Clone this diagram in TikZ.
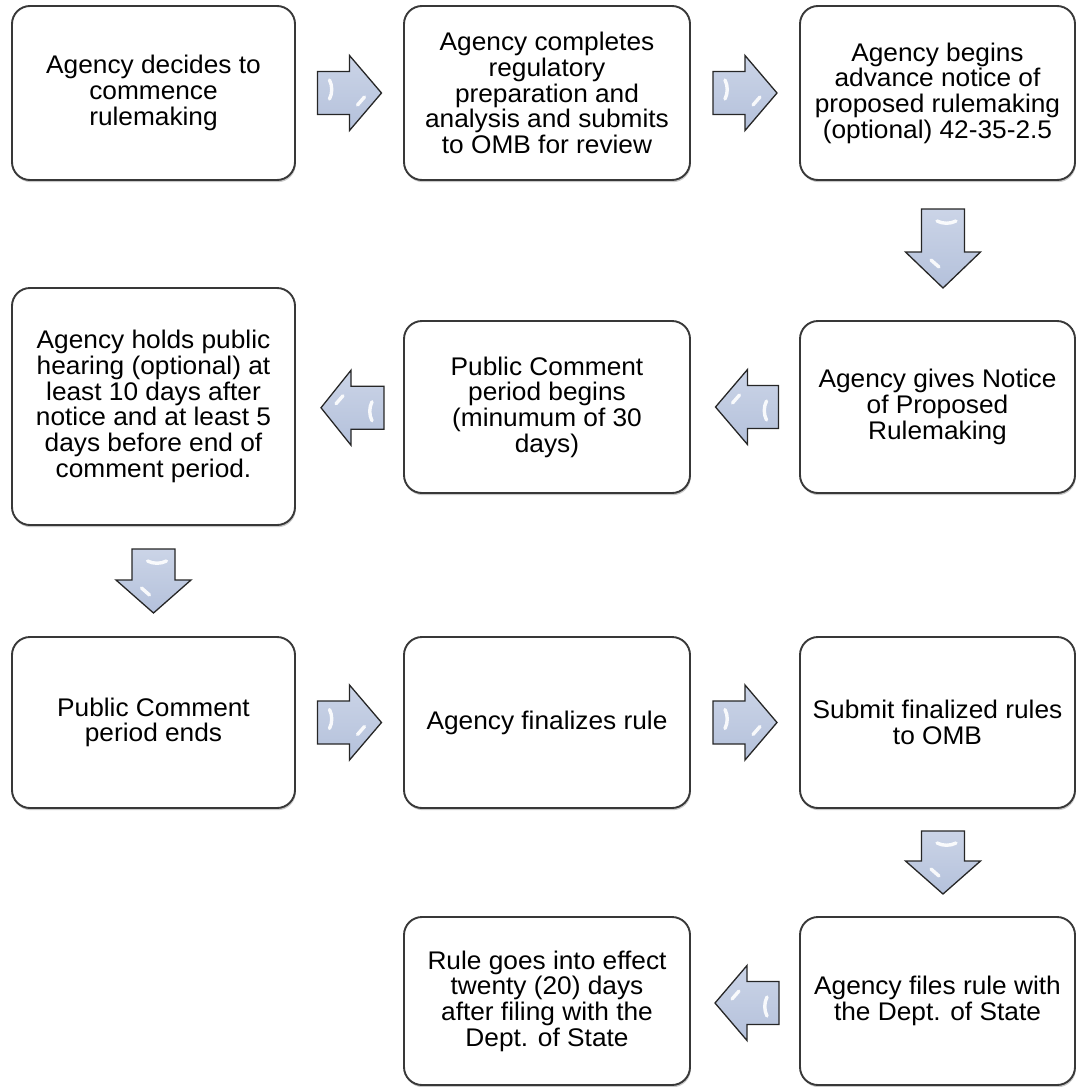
\documentclass[tikz,border=0pt]{standalone}
\usepackage{fontspec}
\setmainfont{Liberation Sans}[FakeStretch=1.03]
\usetikzlibrary{shadows,calc}
\definecolor{boxline}{HTML}{383838}
\definecolor{arrowtop}{HTML}{CBD4E7}
\definecolor{arrowbot}{HTML}{B4C1DB}
\definecolor{arrowline}{HTML}{262626}
\tikzset{
  flowbox/.style={draw=boxline, line width=1.9pt, rounded corners=18pt, fill=white,
    align=center, inner sep=0pt, font=\fontsize{25.5}{25.7}\selectfont,
    drop shadow={shadow xshift=0.8pt, shadow yshift=-2.2pt, opacity=0.3, fill=black!70}},
  arrowbody/.style={draw=arrowline, line width=1.3pt, line join=miter,
    top color=arrowtop, bottom color=arrowbot},
  shine/.style={draw=white, line width=3.4pt, line cap=round, opacity=0.9},
  pics/barrow/.style args={#1/#2}{code={
    \pgfmathsetmacro\aL{-(#1+#2)/2}
    \pgfmathsetmacro\aS{\aL+#1}
    \pgfmathsetmacro\aT{\aS+#2}
    \path[arrowbody] (\aL,-21.5) -- (\aS,-21.5) -- (\aS,-37.5) -- (\aT,0)
      -- (\aS,37.5) -- (\aS,21.5) -- (\aL,21.5) -- cycle;
    \draw[shine] (\aL+12,-13) .. controls (\aL+15,-7) and (\aL+15,0) .. (\aL+12,6);
    \draw[shine] (\aS+15,4) -- (\aS+8,12);
  }}
}
\begin{document}
\begin{tikzpicture}[x=1pt,y=-1pt]
\useasboundingbox (0,0) rectangle (1077,1087);
% row 1
\node[flowbox, minimum width=283pt, minimum height=174pt] (b1) at (153.5,93)
  {Agency decides to\\commence\\rulemaking};
\node[flowbox, minimum width=286pt, minimum height=174pt] (b2) at (547,93)
  {Agency completes\\regulatory\\preparation and\\analysis and submits\\to OMB for review};
\node[flowbox, minimum width=275pt, minimum height=174pt] (b3) at (937.5,93)
  {Agency begins\\advance notice of\\proposed rulemaking\\(optional) 42-35-2.5};
% row 2
\node[flowbox, minimum width=275pt, minimum height=172pt] (b4) at (937.5,407)
  {Agency gives Notice\\of Proposed\\Rulemaking};
\node[flowbox, minimum width=286pt, minimum height=172pt] (b5) at (547,407)
  {Public Comment\\period begins\\(minumum of 30\\days)};
\node[flowbox, minimum width=283pt, minimum height=237pt] (b6) at (153.5,406.5)
  {Agency holds public\\hearing (optional) at\\least 10 days after\\notice and at least 5\\days before end of\\comment period.};
% row 3
\node[flowbox, minimum width=283pt, minimum height=171pt] (b7) at (153.5,722.5)
  {Public Comment\\period ends};
\node[flowbox, minimum width=286pt, minimum height=171pt] (b8) at (547,722.5)
  {Agency finalizes rule};
\node[flowbox, minimum width=275pt, minimum height=171pt] (b9) at (937.5,722.5)
  {Submit finalized rules\\to OMB};
% row 4
\node[flowbox, minimum width=275pt, minimum height=168pt] (b10) at (937.5,1001)
  {Agency files rule with\\the Dept. of State};
\node[flowbox, minimum width=286pt, minimum height=168pt] (b11) at (547,1001)
  {Rule goes into effect\\twenty (20) days\\after filing with the\\Dept. of State};
% connectors (block arrows)
\coordinate (c12) at ($(b1.east)!0.5!(b2.west)$);
\coordinate (c23) at ($(b2.east)!0.5!(b3.west)$);
\coordinate (c34) at ($(b3.south)!0.5!(b4.north)+(5.5,-2)$);
\coordinate (c45) at ($(b4.west)!0.5!(b5.east)+(2,0)$);
\coordinate (c56) at ($(b5.west)!0.5!(b6.east)+(3,1)$);
\coordinate (c67) at ($(b6.south)!0.5!(b7.north)$);
\coordinate (c78) at ($(b7.east)!0.5!(b8.west)$);
\coordinate (c89) at ($(b8.east)!0.5!(b9.west)$);
\coordinate (c910) at ($(b9.south)!0.5!(b10.north)+(5.5,0)$);
\coordinate (c1011) at ($(b10.west)!0.5!(b11.east)+(2,2)$);
\pic at (c12) {barrow=32/32};
\pic at (c23) {barrow=32/32};
\pic[rotate=-90] at (c34) {barrow=43/36};
\pic[rotate=180] at (c45) {barrow=31/32};
\pic[rotate=180] at (c56) {barrow=33/30};
\pic[rotate=-90] at (c67) {barrow=31/33};
\pic at (c78) {barrow=32/32};
\pic at (c89) {barrow=32/32};
\pic[rotate=-90] at (c910) {barrow=30/33};
\pic[rotate=180] at (c1011) {barrow=32/32};
\end{tikzpicture}
\end{document}
